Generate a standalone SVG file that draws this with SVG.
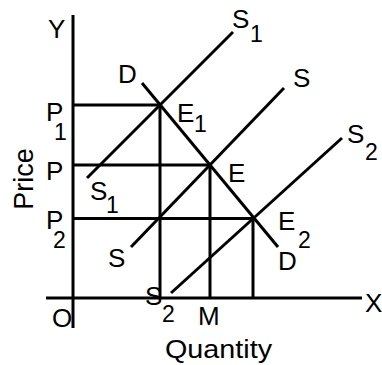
<svg xmlns="http://www.w3.org/2000/svg" width="382" height="365" viewBox="0 0 382 365">
<style>
.ln{stroke:#000;stroke-width:3;fill:none;stroke-linecap:butt}
.t{font-family:"Liberation Sans",Arial,sans-serif;font-size:26px;fill:#000}
.s{font-family:"Liberation Sans",Arial,sans-serif;font-size:23px;fill:#000}
</style>
<rect width="382" height="365" fill="#fff"/>
<g id="axes">
<line class="ln" x1="73" y1="15" x2="73" y2="328"/>
<line class="ln" x1="46" y1="298" x2="362" y2="298"/>
</g>
<g id="connectors">
<line class="ln" x1="73" y1="105" x2="160" y2="105"/>
<line class="ln" x1="73" y1="165" x2="210" y2="165"/>
<line class="ln" x1="73" y1="218.5" x2="253" y2="218.5"/>
<line class="ln" x1="160" y1="105" x2="160" y2="298"/>
<line class="ln" x1="210" y1="165" x2="210" y2="298"/>
<line class="ln" x1="253" y1="218" x2="253" y2="298"/>
<line id="D" class="ln" x1="142" y1="83" x2="278" y2="247"/>
<line id="S1" class="ln" x1="87" y1="178" x2="233" y2="32"/>
<line id="S" class="ln" x1="131" y1="247" x2="284" y2="88"/>
<line id="S2" class="ln" x1="171" y1="293" x2="342" y2="138"/>
</g>
<g id="labels">
<text class="t" x="48" y="38">Y</text>
<text class="t" x="118" y="83">D</text>
<g id="lblS1top"><text class="t" x="232" y="28">S</text><text class="s" x="250" y="42">1</text></g>
<text class="t" x="293" y="87">S</text>
<g id="lblP1"><text class="t" x="46" y="121">P</text><text class="s" x="54" y="140">1</text></g>
<g id="lblE1"><text class="t" x="177" y="122">E</text><text class="s" x="194" y="132">1</text></g>
<text class="t" style="font-size:27px" text-anchor="middle" transform="translate(33,179) rotate(-90)">Price</text>
<text class="t" x="46" y="180">P</text>
<g id="lblS1left"><text class="t" x="90" y="200">S</text><text class="s" x="106" y="213">1</text></g>
<text class="t" x="228" y="182">E</text>
<g id="lblS2right"><text class="t" x="347" y="143">S</text><text class="s" x="365" y="160">2</text></g>
<g id="lblP2"><text class="t" x="46" y="229">P</text><text class="s" x="53" y="248">2</text></g>
<text class="t" x="108" y="267">S</text>
<g id="lblE2"><text class="t" x="278" y="230">E</text><text class="s" x="298" y="248">2</text></g>
<text class="t" x="278" y="270">D</text>
<text class="t" x="52" y="327">O</text>
<g id="lblS2low"><text class="t" x="145" y="305">S</text><text class="s" x="162" y="322">2</text></g>
<text class="t" x="198" y="325">M</text>
<text class="t" x="365" y="312">X</text>
<text class="t" style="font-size:25px" x="165" y="358" textLength="107" lengthAdjust="spacingAndGlyphs">Quantity</text>
</g>
</svg>
